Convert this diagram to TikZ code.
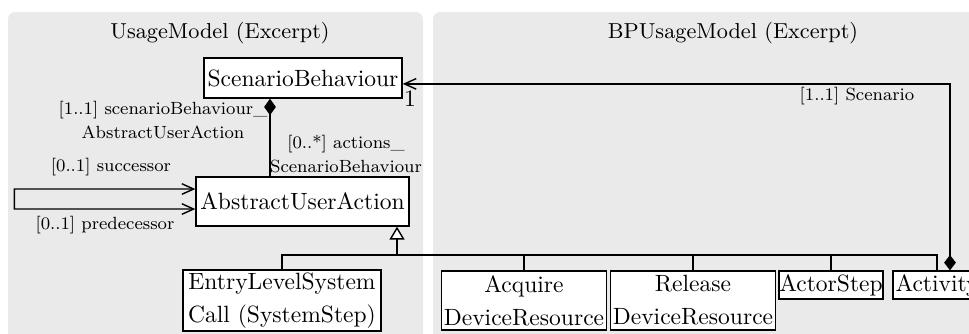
\documentclass[tikz,border=0pt]{standalone}
\usepackage{tikz}
\usetikzlibrary{arrows.meta}
\definecolor{ColPanel}{RGB}{234,234,234}
\tikzstyle{Panel}=[fill=ColPanel,rounded corners=3pt]
\tikzstyle{Title}=[font=\fontsize{9.2}{11}\selectfont,inner sep=0pt]
\tikzstyle{ClassBox}=[draw=black,fill=white,semithick,inner sep=1pt,align=center,
font=\fontsize{10}{14}\selectfont]
\tikzstyle{RoleLabel}=[font=\fontsize{7.5}{10.2}\selectfont,align=center,inner sep=0pt]
\tikzstyle{Edge}=[black,semithick]
\tikzset{NavTip/.tip={Straight Barb[length=5pt,width=4.5pt]}}

\begin{document}
\begin{tikzpicture}[x=0.425pt,y=-0.425pt]
        \useasboundingbox (0,0) rectangle (969,333);
        \clip (0,0) rectangle (969,333);
        \fill[Panel] (8,12) rectangle (423,350);
        \fill[Panel] (433,12) rectangle (990,350);
        \node[Title](tum)at(220,33){UsageModel (Excerpt)};
        \node[Title](tbp)at(733,33){BPUsageModel (Excerpt)};
        \node[ClassBox,minimum width=84.2pt,minimum height=17pt](sb)at(303,78){ScenarioBehaviour};
        \node[ClassBox,minimum width=90.5pt,minimum height=20.8pt](aua)at(302.5,201.5){AbstractUserAction};
        \node[ClassBox,minimum width=84.2pt,minimum height=25.9pt](els)at(282,300.5){EntryLevelSystem\\Call (SystemStep)};
        \node[ClassBox,minimum width=69.7pt,minimum height=25.1pt](adr)at(524,300.5){Acquire\\DeviceResource};
        \node[ClassBox,minimum width=69.7pt,minimum height=25.1pt](rdr)at(693,300.5){Release\\DeviceResource};
        \node[ClassBox,inner sep=0pt,minimum width=44.2pt,minimum height=11.9pt](as)at(831,285){ActorStep};
        \node[ClassBox,minimum height=11.9pt](act)at(937,285){Activity};
        \coordinate(bus)at(0,255);
        \coordinate(gen)at(397,255);
        \coordinate(cx)at(270,0);
        \coordinate(cs)at(950,0);
        \draw[Edge](els.north)|-(bus-|act.north)--(act.north);
        \foreach \n in {adr,rdr,as}
            \draw[Edge](\n.north)--(\n.north|-bus);
        \draw[Edge,-{Triangle[open,length=5.5pt,width=6.4pt,fill=white]}](gen)--(gen|-aua.south);
        \draw[Edge,{Diamond[length=7pt,width=5pt]}-](sb.south-|cx)--(aua.north-|cx);
        \draw[Edge,NavTip-NavTip]([yshift=5.3pt]aua.west)
            --++(-181,0)--++(0,20)--([yshift=-3.2pt]aua.west);
        \draw[Edge,{Diamond[length=6.5pt,width=5pt]}-NavTip](act.north-|cs)
            |-([yshift=-2.5pt]sb.east);
        \node[RoleLabel](lsb)at(163,120){[1..1] scenarioBehaviour\_\\AbstractUserAction};
        \node[RoleLabel](lac)at(346,154){[0..*] actions\_\\ScenarioBehaviour};
        \node[RoleLabel](lsu)at(111,167){[0..1] successor};
        \node[RoleLabel](lpr)at(105,225){[0..1] predecessor};
        \node[RoleLabel](lsc)at(857,96){[1..1] Scenario};
        \node[inner sep=0pt](one)at(410,99){1};
    \end{tikzpicture}
\end{document}
